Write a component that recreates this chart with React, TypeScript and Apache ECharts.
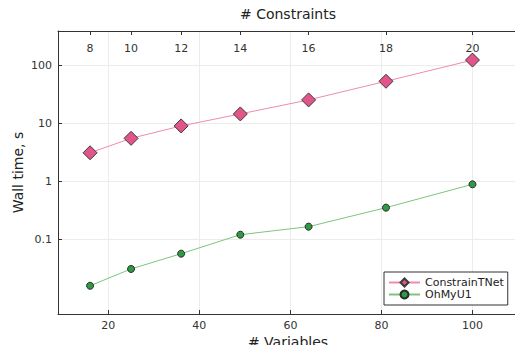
import React, { useEffect, useRef } from "react";
import * as echarts from "echarts";

const variables = [16, 25, 36, 49, 64, 81, 100];
const constraintTicks = [8, 10, 12, 14, 16, 18, 20];
const constrainTNet = [3.1, 5.5, 9.0, 14.5, 25.3, 53, 123];
const ohMyU1 = [0.0158, 0.0308, 0.0565, 0.12, 0.165, 0.351, 0.887];
const xTicks = [20, 40, 60, 80, 100];
const yTicks = [0.1, 1, 10, 100];

const FONT = "DejaVu Sans";

export default function App() {
  const ref = useRef<HTMLDivElement>(null);
  useEffect(() => {
    const chart = echarts.init(ref.current!, null, { renderer: "svg" });
    const topVals = constraintTicks.map((c) => (c / 2) * (c / 2));
    chart.setOption({
      animation: false,
      textStyle: { fontFamily: FONT },
      grid: { left: 58, top: 31, width: 460, height: 283, outerBoundsMode: "none", containLabel: false },
      legend: {
        left: 384,
        top: 272,
        orient: "vertical",
        backgroundColor: "#fff",
        borderColor: "#333",
        borderWidth: 1,
        borderRadius: 0,
        padding: [5, 4, 5, 4],
        itemGap: 1,
        itemWidth: 31,
        itemHeight: 10,
        textStyle: { fontFamily: FONT, fontSize: 11, color: "#222" },
        data: ["ConstrainTNet", "OhMyU1"],
      },
      xAxis: [
        {
          type: "value",
          min: 8.95,
          max: 110,
          name: "# Variables",
          nameLocation: "middle",
          nameGap: 21,
          nameMoveOverlap: false,
          nameTextStyle: { fontFamily: FONT, fontSize: 14, color: "#222" },
          axisLine: { show: true, onZero: false, lineStyle: { color: "#333", width: 1 } },
          axisTick: { show: true, inside: true, length: 4, customValues: xTicks, lineStyle: { color: "#333" } },
          axisLabel: { customValues: xTicks, margin: 6, fontSize: 11, color: "#333", fontFamily: FONT },
          splitLine: { show: true, lineStyle: { color: "#ececec", width: 1 } },
        },
        {
          type: "value",
          position: "top",
          min: 8.95,
          max: 110,
          name: "# Constraints",
          nameLocation: "middle",
          nameGap: 10,
          nameMoveOverlap: false,
          nameTextStyle: { fontFamily: FONT, fontSize: 14, color: "#222" },
          axisLine: { show: true, onZero: false, lineStyle: { color: "#333", width: 1 } },
          axisTick: { show: true, inside: true, length: 4, customValues: topVals, lineStyle: { color: "#333" } },
          axisLabel: {
            customValues: topVals,
            inside: true,
            margin: 12,
            fontSize: 11,
            color: "#333",
            fontFamily: FONT,
            formatter: (v: number) => String(Math.round(2 * Math.sqrt(v))),
          },
          splitLine: { show: false },
        },
      ],
      yAxis: {
        type: "log",
        logBase: 10,
        min: 0.00515,
        max: 390,
        name: "Wall time, s",
        nameLocation: "middle",
        nameGap: 33,
        nameMoveOverlap: false,
        nameTextStyle: { fontFamily: FONT, fontSize: 14, color: "#222" },
        axisLine: { show: true, onZero: false, lineStyle: { color: "#333", width: 1 } },
        axisTick: { show: true, inside: true, length: 4, customValues: yTicks, lineStyle: { color: "#333" } },
        axisLabel: {
          customValues: yTicks,
          margin: 6,
          fontSize: 11,
          color: "#333",
          fontFamily: FONT,
          formatter: (v: number) => (v < 1 ? v.toFixed(1) : String(Math.round(v))),
        },
        splitLine: { show: true, lineStyle: { color: "#ececec", width: 1 } },
      },
      series: [
        {
          name: "ConstrainTNet",
          type: "line",
          data: variables.map((x, i) => [x, constrainTNet[i]]),
          symbol: "diamond",
          symbolSize: 14,
          lineStyle: { color: "#f08ab0", width: 1 },
          itemStyle: { color: "#e2558b", borderColor: "#3a3a3a", borderWidth: 1 },
          z: 3,
        },
        {
          name: "OhMyU1",
          type: "line",
          data: variables.map((x, i) => [x, ohMyU1[i]]),
          symbol: "circle",
          symbolSize: 7,
          lineStyle: { color: "#7cc47f", width: 1 },
          itemStyle: { color: "#2f9a44", borderColor: "#2a2a2a", borderWidth: 1 },
          z: 3,
        },
      ],
    });
    return () => chart.dispose();
  }, []);
  return <div ref={ref} style={{ width: 515, height: 345, position: "absolute", left: 0, top: 0 }} />;
}
